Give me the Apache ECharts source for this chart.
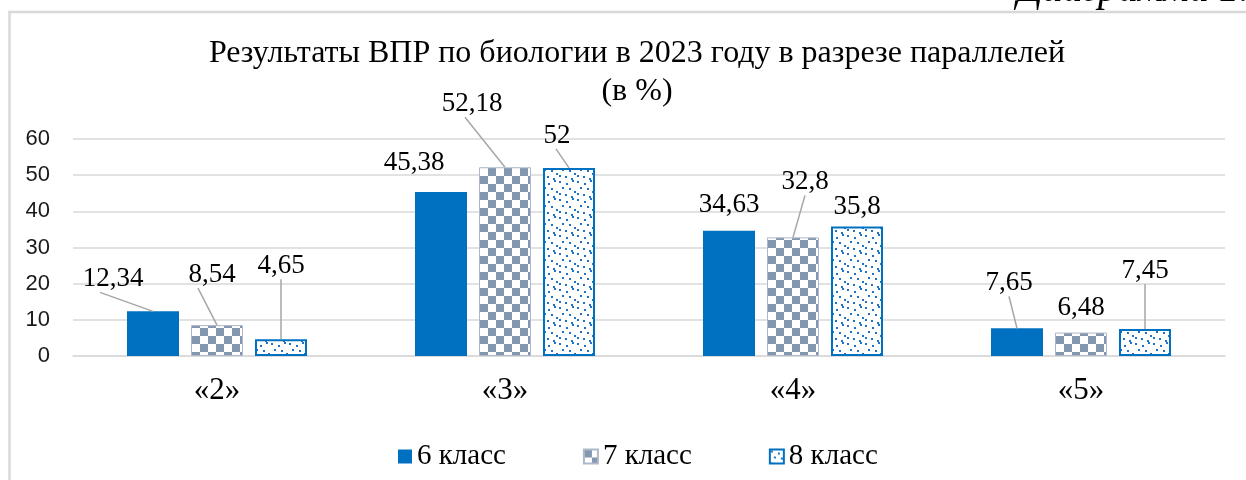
<!DOCTYPE html>
<html>
<head>
<meta charset="utf-8">
<script src="https://cdn.jsdelivr.net/npm/echarts@6/dist/echarts.min.js"></script>
<style>
  html, body { margin: 0; padding: 0; background: #ffffff; }
  #chart { width: 1246px; height: 480px; }
</style>
</head>
<body>
<div id="chart"></div>
<script>
// Chart data
const categories = ['«2»', '«3»', '«4»', '«5»'];
const seriesNames = ['6 класс', '7 класс', '8 класс'];
const grade6 = [12.34, 45.38, 34.63, 7.65];
const grade7 = [8.54, 52.18, 32.8, 6.48];
const grade8 = [4.65, 52, 35.8, 7.45];
const yTicks = [0, 10, 20, 30, 40, 50, 60];
const titleLines = ['Результаты ВПР по биологии в 2023 году в разрезе параллелей', '(в %)'];
const captionText = 'Диаграмма 1.2';

// Where each value label sits relative to its bar: horizontal shift, gap above the bar top,
// whether a leader line is drawn back to the bar, and where along the label that line starts.
const labelPlacement = [
  [{ dx: -40, lift: 19, line: true, lineDx: -13 }, { dx: -27, lift: 15, line: false }, { dx: 0, lift: 12, line: false }, { dx: -8, lift: 32, line: true, lineDx: 0 }],
  [{ dx: -5, lift: 37, line: true, lineDx: -14 }, { dx: -33, lift: 50, line: true, lineDx: -7 }, { dx: 12, lift: 42, line: true, lineDx: 0 }, { dx: 0, lift: 11, line: false }],
  [{ dx: 0, lift: 60, line: true, lineDx: 0 }, { dx: -12, lift: 19, line: true, lineDx: -1 }, { dx: 0, lift: 6, line: false }, { dx: 0, lift: 45, line: true, lineDx: 0 }]
];

const SERIF = '"Liberation Serif", "Times New Roman", serif';
const SANS = '"Liberation Sans", Arial, sans-serif';
const BLUE = '#0070c0';
const SLATE = '#8497b0';
const BAR_WIDTH = 52;
const BAR_GAP = 12;
const BAR_STEP = BAR_WIDTH + BAR_GAP;

// Checkerboard fill
function checkerPattern() {
  const c = document.createElement('canvas');
  c.width = 16; c.height = 16;
  const g = c.getContext('2d');
  g.fillStyle = '#ffffff'; g.fillRect(0, 0, 16, 16);
  g.fillStyle = SLATE;
  g.fillRect(0, 0, 8, 8);
  g.fillRect(8, 8, 8, 8);
  return c;
}

// Scattered dot fill
function dotPattern() {
  const c = document.createElement('canvas');
  c.width = 18; c.height = 18;
  const g = c.getContext('2d');
  g.fillStyle = '#ffffff'; g.fillRect(0, 0, 18, 18);
  g.fillStyle = '#1f72c4';
  const dots = [[1, 1], [8, 3], [14, 0], [4, 7], [11, 8], [16, 11], [1, 13], [7, 14], [13, 16]];
  dots.forEach(function (d) { g.fillRect(d[0], d[1], 2, 2); });
  return c;
}

const labelStyle = {
  show: true,
  position: 'top',
  color: '#000000',
  fontFamily: SERIF,
  fontSize: 27,
  formatter: function (p) { return String(p.value).replace('.', ','); }
};

const seriesStyles = [
  { color: BLUE, borderColor: BLUE, borderWidth: 0 },
  { color: { image: checkerPattern(), repeat: 'repeat' }, borderColor: '#adb9ca', borderWidth: 1 },
  { color: { image: dotPattern(), repeat: 'repeat' }, borderColor: BLUE, borderWidth: 2 }
];
const seriesValues = [grade6, grade7, grade8];

// Bars with value labels lifted above them
const barSeries = seriesNames.map(function (name, s) {
  return {
    name: name,
    type: 'bar',
    barWidth: BAR_WIDTH,
    barGap: (BAR_GAP / BAR_WIDTH * 100) + '%',
    data: seriesValues[s],
    itemStyle: seriesStyles[s],
    label: labelStyle,
    labelLayout: function (p) {
      const pl = labelPlacement[p.seriesIndex][p.dataIndex];
      return {
        x: p.rect.x + p.rect.width / 2 + pl.dx,
        y: p.rect.y - pl.lift,
        align: 'center',
        verticalAlign: 'bottom'
      };
    }
  };
});

// Leader lines from a lifted label down to the middle of its bar top
const leaderData = [];
seriesValues.forEach(function (vals, s) {
  vals.forEach(function (v, i) { leaderData.push([i, v, s]); });
});
const leaderSeries = {
  name: 'leaders',
  type: 'custom',
  silent: true,
  z: 5,
  data: leaderData,
  encode: { x: 0, y: 1 },
  renderItem: function (params, api) {
    const cat = api.value(0);
    const s = api.value(2);
    const pl = labelPlacement[s][cat];
    if (!pl.line) return null;
    const top = api.coord([cat, api.value(1)]);
    const cx = top[0] + (s - 1) * BAR_STEP;
    const lx = cx + pl.dx + pl.lineDx;
    const ly = top[1] - pl.lift;
    return {
      type: 'line',
      shape: { x1: lx, y1: ly, x2: cx, y2: top[1] },
      style: { stroke: '#a6a6a6', lineWidth: 1.5 }
    };
  }
};

const chart = echarts.init(document.getElementById('chart'), null, { renderer: 'canvas' });

chart.setOption({
  animation: false,
  backgroundColor: '#ffffff',
  title: {
    text: titleLines.join('\n'),
    left: 632,
    top: 30,
    textAlign: 'center',
    textStyle: { fontFamily: SERIF, fontSize: 32, fontWeight: 'normal', color: '#000000', lineHeight: 38 }
  },
  legend: {
    data: seriesNames,
    left: 393,
    top: 437,
    itemWidth: 14,
    itemHeight: 14,
    itemGap: 77,
    icon: 'rect',
    textStyle: { fontFamily: SERIF, fontSize: 29, color: '#000000' }
  },
  grid: { left: 73, right: 21, top: 139, bottom: 124, containLabel: false },
  xAxis: {
    type: 'category',
    data: categories,
    axisLine: { lineStyle: { color: '#d9d9d9', width: 1.5 } },
    axisTick: { show: false },
    axisLabel: { fontFamily: SERIF, fontSize: 31, color: '#000000', margin: 19 }
  },
  yAxis: {
    type: 'value',
    min: yTicks[0],
    max: yTicks[yTicks.length - 1],
    interval: yTicks[1] - yTicks[0],
    axisLine: { show: false },
    axisTick: { show: false },
    splitLine: { lineStyle: { color: '#d9d9d9', width: 1.5 } },
    axisLabel: { fontFamily: SANS, fontSize: 22, color: '#1a1a1a', margin: 23 }
  },
  series: barSeries.concat([leaderSeries]),
  graphic: [
    {
      type: 'rect',
      silent: true,
      shape: { x: 9.5, y: 12, width: 1400, height: 600 },
      style: { fill: 'none', stroke: '#d9d9d9', lineWidth: 2.5 }
    },
    {
      type: 'text',
      silent: true,
      left: 1017,
      top: -30,
      style: { text: captionText, font: 'italic 40px ' + SERIF, fill: '#000000' }
    }
  ]
});
</script>
</body>
</html>
